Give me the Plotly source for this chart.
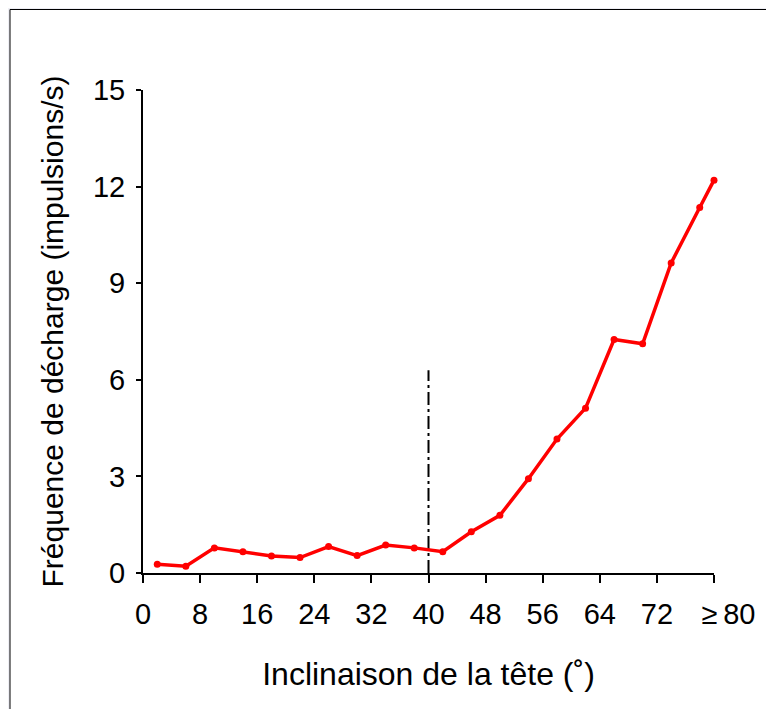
import plotly.graph_objects as go

# Data
tilt_deg = [2, 6, 10, 14, 18, 22, 26, 30, 34, 38, 42, 46, 50, 54, 58, 62, 66, 70, 74, 78, 80]
rate = [0.27, 0.21, 0.78, 0.66, 0.53, 0.48, 0.82, 0.54, 0.87, 0.78, 0.66,
        1.28, 1.79, 2.93, 4.16, 5.12, 7.25, 7.12, 9.63, 11.35, 12.2]
x_tick_vals = [0, 8, 16, 24, 32, 40, 48, 56, 64, 72, 80]
x_tick_text = ["0", "8", "16", "24", "32", "40", "48", "56", "64", "72", "\u2003≥\u200980"]
y_tick_vals = [0, 3, 6, 9, 12, 15]
threshold_x = [40, 40]
threshold_y = [0, 6.3]

W, H = 774, 709
OFF = 8  # page offset of the figure in the browser
L = 143 - OFF
T = 90 - OFF
R = W - (714 - OFF)
B = H - (573 - OFF)
pw = W - L - R
ph = H - T - B

def px_to_paper_x(px):
    return (px - OFF - L) / pw

def py_to_paper_y(py):
    return (H - B - (py - OFF)) / ph

font = "Liberation Sans, Arial, Helvetica, sans-serif"

fig = go.Figure()
fig.add_trace(go.Scatter(
    x=threshold_x, y=threshold_y, mode="lines",
    line=dict(color="black", width=2, dash="13px,4px,3px,4px"),
    hoverinfo="skip", showlegend=False, cliponaxis=False))
fig.add_trace(go.Scatter(
    x=tilt_deg, y=rate, mode="lines+markers",
    line=dict(color="#ff0000", width=3.5),
    marker=dict(color="#ff0000", size=7),
    showlegend=False, cliponaxis=False))

fig.add_shape(type="rect", xref="paper", yref="paper",
              x0=px_to_paper_x(10), x1=px_to_paper_x(800),
              y0=py_to_paper_y(740), y1=py_to_paper_y(9.5),
              line=dict(color="black", width=1), fillcolor="white", layer="below")

fig.update_layout(
    width=W, height=H,
    margin=dict(l=L, r=R, t=T, b=B),
    paper_bgcolor="#eeeef4", plot_bgcolor="white",
    font=dict(family=font, size=29, color="black"),
    xaxis=dict(range=[0, 80], tickvals=x_tick_vals, ticktext=x_tick_text, tickangle=0,
               automargin=False,
               showgrid=False, zeroline=False, showline=True, linecolor="black", linewidth=2,
               ticks="outside", ticklen=8, tickwidth=1.5, tickcolor="black",
               tickfont=dict(size=29), ticklabelstandoff=6,
               title=dict(text="Inclinaison de la tête (˚)", font=dict(size=32), standoff=34)),
    yaxis=dict(range=[0, 15], tickvals=y_tick_vals, automargin=False,
               showgrid=False, zeroline=False, showline=True, linecolor="black", linewidth=2,
               ticks="outside", ticklen=5, tickwidth=1.5, tickcolor="black",
               tickfont=dict(size=29), ticklabelstandoff=5,
               title=dict(text="Fréquence de décharge (impulsions/s)", font=dict(size=30), standoff=20)),
)

fig.write_html("out.html")
